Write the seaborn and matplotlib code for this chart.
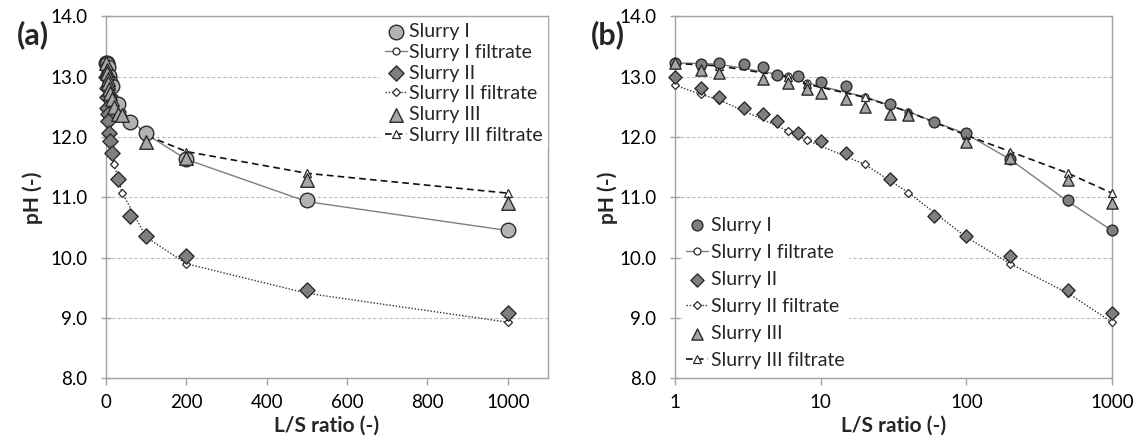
import matplotlib
matplotlib.use("Agg")
import matplotlib.pyplot as plt
import seaborn as sns
from matplotlib.ticker import FixedLocator, FixedFormatter, FormatStrFormatter, NullLocator

# === Data ===
x_slurry12 = [1, 1.5, 2, 3, 4, 5, 7, 10, 15, 30, 60, 100, 200, 500, 1000]
slurry_1 = [13.23, 13.22, 13.23, 13.21, 13.16, 13.03, 13.02, 12.92, 12.85, 12.55, 12.25, 12.06, 11.63, 10.96, 10.46]
slurry_2 = [13.00, 12.81, 12.67, 12.48, 12.39, 12.27, 12.06, 11.93, 11.73, 11.31, 10.69, 10.36, 10.02, 9.47, 9.08]

x_slurry3 = [1, 1.5, 2, 4, 6, 8, 10, 15, 20, 30, 40, 100, 200, 500, 1000]
slurry_3 = [13.23, 13.11, 13.07, 12.97, 12.89, 12.79, 12.73, 12.64, 12.50, 12.39, 12.37, 11.92, 11.65, 11.29, 10.91]

x_filtrate = [1, 1.5, 2, 6, 8, 20, 40, 100, 200, 500, 1000]
filtrate_1 = [13.23, 13.22, 13.21, 13.01, 12.90, 12.67, 12.42, 12.05, 11.63, 10.93, 10.45]
filtrate_2 = [12.86, 12.71, 12.62, 12.10, 11.95, 11.55, 11.08, 10.34, 9.90, 9.41, 8.93]
filtrate_3 = [13.22, 13.20, 13.18, 13.00, 12.88, 12.66, 12.42, 12.03, 11.76, 11.40, 11.07]

y_ticks = [8, 9, 10, 11, 12, 13, 14]

sns.set_style("white")
plt.rcParams["font.family"] = ["Lato", "DejaVu Sans"]

fig = plt.figure(figsize=(11.39, 4.41), dpi=100)
ax_a = fig.add_axes([0.0931, 0.1422, 0.388, 0.8204])
ax_b = fig.add_axes([0.5926, 0.1422, 0.3837, 0.8204])

EDGE = "#2b2b2b"
AXCOL = "#a3a3a3"


def draw_panel(ax, big):
    # sizes differ a bit between the two panels
    s_circ = 110 if big else 60
    s_dia = 60 if big else 45
    s_tri = 95 if big else 65
    circ_col = "#b3b3b3" if big else "#7f7f7f"

    sns.scatterplot(x=x_slurry12, y=slurry_1, ax=ax, marker="o", s=s_circ, color=circ_col,
                    edgecolor=EDGE, linewidth=1, label="Slurry I", zorder=5, clip_on=False)
    sns.lineplot(x=x_filtrate, y=filtrate_1, ax=ax, estimator=None, sort=True, color="#7f7f7f",
                 linewidth=1, marker="o", markersize=5, markerfacecolor="white",
                 markeredgecolor=EDGE, markeredgewidth=0.9, label="Slurry I filtrate",
                 zorder=3, clip_on=False)
    sns.scatterplot(x=x_slurry12, y=slurry_2, ax=ax, marker="D", s=s_dia, color="#7f7f7f",
                    edgecolor=EDGE, linewidth=1, label="Slurry II", zorder=6, clip_on=False)
    sns.lineplot(x=x_filtrate, y=filtrate_2, ax=ax, estimator=None, sort=True, color="#333333",
                 linewidth=1, linestyle=(0, (1, 1.3)), marker="D", markersize=4.2,
                 markerfacecolor="white", markeredgecolor=EDGE, markeredgewidth=0.9,
                 label="Slurry II filtrate", zorder=3.5, clip_on=False)
    sns.scatterplot(x=x_slurry3, y=slurry_3, ax=ax, marker="^", s=s_tri, color="#a6a6a6",
                    edgecolor=EDGE, linewidth=1, label="Slurry III", zorder=7, clip_on=False)
    sns.lineplot(x=x_filtrate, y=filtrate_3, ax=ax, estimator=None, sort=True, color="#111111",
                 linewidth=1.2, linestyle=(0, (4, 2.5)), marker="^", markersize=5.5,
                 markerfacecolor="white", markeredgecolor=EDGE, markeredgewidth=0.9,
                 label="Slurry III filtrate", zorder=4, clip_on=False)

    ax.set_ylim(8, 14)
    ax.yaxis.set_major_locator(FixedLocator(y_ticks))
    ax.yaxis.set_major_formatter(FormatStrFormatter("%.1f"))
    ax.grid(axis="y", color="#bdbdbd", linestyle=(0, (3, 2)), linewidth=0.8)
    ax.set_axisbelow(True)
    for sp in ax.spines.values():
        sp.set_color(AXCOL)
        sp.set_linewidth(1)
    ax.tick_params(axis="both", labelsize=13.5, colors=AXCOL, labelcolor="black", width=1,
                   left=True, bottom=True)
    ax.tick_params(axis="y", direction="inout", length=7, pad=10)
    ax.tick_params(axis="x", direction="out", length=5, pad=6)
    ax.set_ylabel("pH (-)", fontsize=15, fontweight="bold")
    ax.set_xlabel("L/S ratio (-)", fontsize=15, fontweight="bold")
    ax.xaxis.set_label_coords(0.5, -0.103)


draw_panel(ax_a, True)
ax_a.set_xlim(0, 1100)
ax_a.xaxis.set_major_locator(FixedLocator([0, 200, 400, 600, 800, 1000]))
ax_a.yaxis.set_label_coords(-0.142, 0.5)
ax_a.legend(loc="upper right", bbox_to_anchor=(1.0, 0.995), fontsize=14, labelspacing=0.19,
            handlelength=1.1, handletextpad=0.15, borderpad=0.25, borderaxespad=0.0,
            frameon=True, facecolor="white", edgecolor="none", framealpha=1, fancybox=False)

draw_panel(ax_b, False)
ax_b.set_xscale("log")
ax_b.set_xlim(1, 1000)
ax_b.xaxis.set_major_locator(FixedLocator([1, 10, 100, 1000]))
ax_b.xaxis.set_major_formatter(FixedFormatter(["1", "10", "100", "1000"]))
ax_b.xaxis.set_minor_locator(NullLocator())
ax_b.yaxis.set_label_coords(-0.13, 0.5)
ax_b.legend(loc="lower left", bbox_to_anchor=(0.015, 0.012), fontsize=14, labelspacing=0.52,
            handlelength=1.1, handletextpad=0.15, borderpad=0.25, borderaxespad=0.0,
            frameon=True, facecolor="white", edgecolor="none", framealpha=1, fancybox=False)

fig.text(0.029, 0.922, "(a)", fontsize=22, fontweight="bold", ha="center", va="center")
fig.text(0.534, 0.922, "(b)", fontsize=22, fontweight="bold", ha="center", va="center")

fig.savefig("out.png", dpi=100)
